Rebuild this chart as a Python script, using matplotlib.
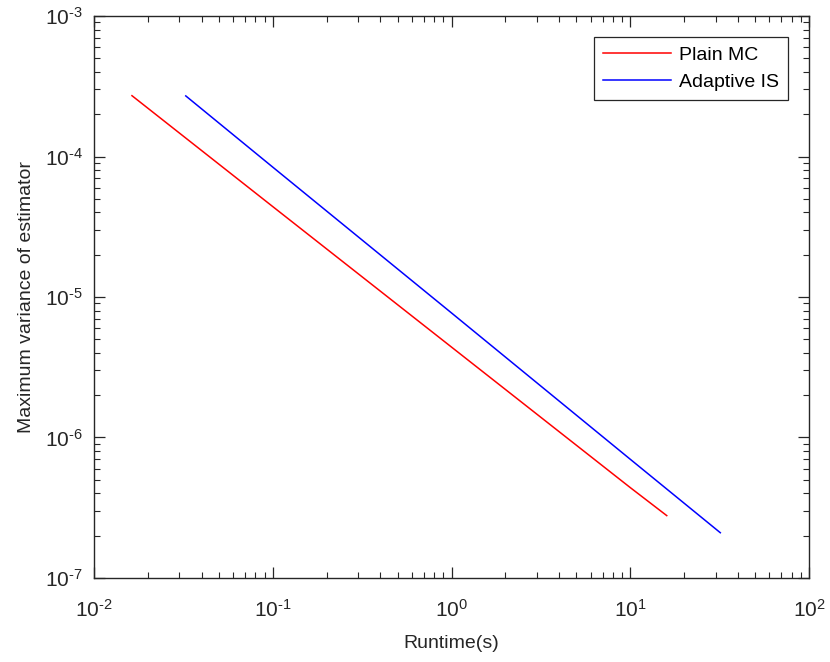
import matplotlib
matplotlib.use("Agg")
import math
import matplotlib.pyplot as plt
from matplotlib.ticker import LogLocator, NullFormatter, FuncFormatter

# runtime (s) vs maximum variance
mc_runtime = [0.0163, 0.1, 1.0, 10.0, 16.0]
mc_variance = [2.71e-4, 4.4e-5, 4.4e-6, 4.4e-7, 2.78e-7]
ais_runtime = [0.0326, 0.1, 1.0, 10.0, 31.9]
ais_variance = [2.70e-4, 8.4e-5, 7.7e-6, 7.0e-7, 2.1e-7]
labels = ["Plain MC", "Adaptive IS"]

plt.rcParams["font.family"] = ["Liberation Sans", "DejaVu Sans"]
plt.rcParams["mathtext.fontset"] = "custom"
plt.rcParams["mathtext.rm"] = "Liberation Sans"
plt.rcParams["mathtext.it"] = "Liberation Sans"


def pow10(v, pos):
    e = int(round(math.log10(v)))
    if e < 0:
        return r"$\mathregular{10^{\text{-}%d}}$" % (-e)
    return r"$\mathregular{10^{%d}}$" % e


fig = plt.figure(figsize=(8.3, 6.62), dpi=100)
ax = fig.add_axes([0.1133, 0.1269, 0.8614, 0.8489])
ax.plot(mc_runtime, mc_variance, color="#ff0000", lw=1.1, label=labels[0])
ax.plot(ais_runtime, ais_variance, color="#0000ff", lw=1.1, label=labels[1])
ax.set_xscale("log")
ax.set_yscale("log")
ax.set_xlim(1e-2, 1e2)
ax.set_ylim(1e-7, 1e-3)

for axis in (ax.xaxis, ax.yaxis):
    axis.set_major_locator(LogLocator(base=10, numticks=10))
    axis.set_minor_locator(LogLocator(base=10, subs=range(2, 10), numticks=20))
    axis.set_major_formatter(FuncFormatter(pow10))
    axis.set_minor_formatter(NullFormatter())

edge = "#262626"
for s in ax.spines.values():
    s.set_color(edge)
    s.set_linewidth(1.0)
ax.tick_params(which="both", direction="in", top=True, right=True,
               colors=edge, labelcolor="#262626")
ax.tick_params(which="major", length=8, width=0.9, labelsize=15)
ax.tick_params(axis="x", which="major", pad=15)
ax.tick_params(axis="y", which="major", pad=8)
ax.tick_params(which="minor", length=4.5, width=0.8)

ax.set_xlabel("Runtime(s)", fontsize=14, color="#262626", labelpad=10)
ax.set_ylabel("Maximum variance of estimator", fontsize=14, color="#262626", labelpad=7)

leg = ax.legend(loc="upper right", fontsize=14, fancybox=False, framealpha=1,
                edgecolor=edge, borderaxespad=1.1, handlelength=3.5,
                handletextpad=0.4, borderpad=0.45, labelspacing=0.5)
leg.get_frame().set_linewidth(0.9)

fig.savefig("out.png", dpi=100)
